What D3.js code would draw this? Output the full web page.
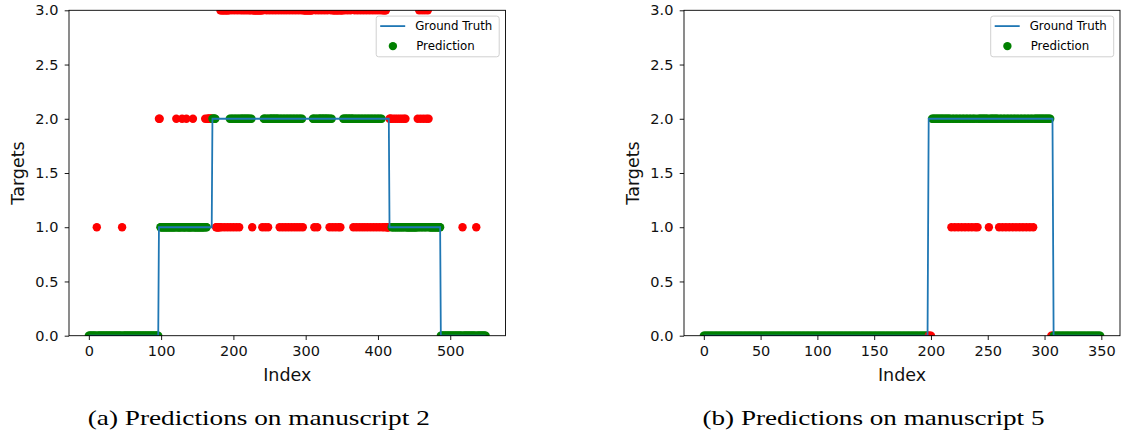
<!DOCTYPE html>
<html>
<head>
<meta charset="utf-8">
<script src="https://cdn.jsdelivr.net/npm/d3@7"></script>
<style>
body { margin: 0; background: #fff; }
svg { display: block; font-family: "DejaVu Sans", sans-serif; }
</style>
</head>
<body>
<svg id="chart" width="1125" height="439"></svg>
<script>
// ground truth as runs: [first index, last index, target]
var truthA = [[0, 96, 0], [97, 170, 1], [171, 415, 2], [416, 486, 1], [487, 549, 0]];
var truthB = [[0, 197, 0], [198, 307, 2], [308, 349, 0]];

// indices where the prediction is wrong (red), grouped by predicted value.
// every other index is predicted correctly (green)
var wrongA1 = [11, 46, 176, 177, 178, 179, 180, 181, 184, 188, 192, 196, 200, 204, 208, 226, 240, 244, 248,
    264, 268, 272, 276, 280, 284, 288, 292, 296, 312, 316, 333, 337, 341, 345, 348,
    366, 370, 374, 378, 382, 386, 390, 394, 398, 402, 406, 409, 412, 413, 414, 415, 517, 536];
var wrongA2 = [97, 98, 121, 129, 135, 144, 161, 164, 165, 166, 167, 168, 169, 170,
    416, 417, 418, 421, 424, 427, 430, 433, 436, 438, 455, 459, 463, 467, 470];
var wrongA3 = [182, 183, 185, 186, 187, 189, 190, 191, 193, 194, 198, 202, 206, 210, 213, 216, 219, 222, 224,
    227, 228, 229, 230, 231, 232, 233, 234, 235, 236, 237, 238, 239, 241,
    246, 250, 254, 258, 262, 266, 270, 274, 278, 282, 286, 290, 294,
    297, 298, 299, 300, 301, 302, 303, 304, 305, 306, 307, 308, 309,
    314, 318, 322, 326, 330, 335, 338, 339, 340, 342, 343, 344, 346, 347, 349, 350, 351,
    354, 358, 362, 368, 372, 376, 380, 384, 388, 392, 396, 400, 404, 407, 408, 410, 411,
    457, 461, 465, 469];
var wrongB0 = [198, 199, 200, 306, 307];
var wrongB1 = [218, 221, 224, 227, 230, 233, 236, 239, 241, 251,
    260, 263, 266, 269, 272, 275, 278, 281, 284, 287, 290];

var yTicks = [0, 0.5, 1, 1.5, 2, 2.5, 3];
var xTicksA = [0, 100, 200, 300, 400, 500];
var xTicksB = [0, 50, 100, 150, 200, 250, 300, 350];
var captions = ["(a) Predictions on manuscript 2", "(b) Predictions on manuscript 5"];

var svg = d3.select("#chart");
svg.append("rect").attr("width", 1125).attr("height", 439).attr("fill", "#fff");

function expand(runs)
{
    var out = [];
    runs.forEach(function(r) {
        for (var i = r[0]; i <= r[1]; i++) out.push(r[2]);
    });
    return out;
}

function draw_legend(g, right, top)
{
    var w = 123, h = 40.7;
    var bx = right - 6.3 - w, by = top + 5.8;
    g.append("rect")
        .attr("x", bx).attr("y", by).attr("width", w).attr("height", h)
        .attr("rx", 2.5)
        .attr("fill", "rgba(255,255,255,0.8)")
        .attr("stroke", "#d0d0d0").attr("stroke-width", 1);
    g.append("line")
        .attr("x1", bx + 4).attr("x2", bx + 29)
        .attr("y1", by + 10).attr("y2", by + 10)
        .attr("stroke", "#1f77b4").attr("stroke-width", 1.8);
    g.append("circle")
        .attr("cx", bx + 16.7).attr("cy", by + 30).attr("r", 4.2)
        .attr("fill", "#008000");
    var labels = ["Ground Truth", "Prediction"];
    g.selectAll("text.leg").data(labels).enter().append("text")
        .attr("class", "leg")
        .attr("x", function(d, i) { return bx + 39 + i; })
        .attr("y", function(d, i) { return by + 14.3 + i * 20; })
        .attr("font-size", 11.8)
        .attr("fill", "#000")
        .text(function(d) { return d; });
}

function draw_panel(id, box, truthRuns, wrong, xTicks, caption)
{
    var gt = expand(truthRuns);
    var n = gt.length - 1;
    var pred = gt.slice();
    wrong.forEach(function(w) {
        w[1].forEach(function(i) { pred[i] = w[0]; });
    });

    var x = d3.scaleLinear()
        .domain([-0.05 * n, n * 1.05])
        .range([box.left, box.right]);
    var y = d3.scaleLinear()
        .domain([0, 3])
        .range([box.bottom, box.top]);

    var g = svg.append("g");
    g.append("clipPath").attr("id", "clip" + id).append("rect")
        .attr("x", box.left).attr("y", box.top)
        .attr("width", box.right - box.left).attr("height", box.bottom - box.top);

    var plot = g.append("g").attr("clip-path", format("url(#clip{})", id));

    // one scatter, drawn in index order
    plot.selectAll("circle").data(pred).enter().append("circle")
        .attr("cx", function(d, i) { return x(i); })
        .attr("cy", function(d) { return y(d); })
        .attr("r", 4.2)
        .attr("fill", function(d, i) { return d === gt[i] ? "#008000" : "#ff0000"; });

    // ground truth line sits above the dots
    plot.append("path").datum(gt)
        .attr("d", d3.line().x(function(d, i) { return x(i); }).y(function(d) { return y(d); }))
        .attr("fill", "none")
        .attr("stroke", "#1f77b4")
        .attr("stroke-width", 1.8);

    var xAxis = g.append("g")
        .attr("transform", format("translate(0, {})", box.bottom))
        .call(d3.axisBottom(x).tickValues(xTicks).tickSize(4.3).tickPadding(5.5).tickFormat(d3.format("d")));
    var yAxis = g.append("g")
        .attr("transform", format("translate({}, 0)", box.left))
        .call(d3.axisLeft(y).tickValues(yTicks).tickSize(4.3).tickPadding(6.3).tickFormat(d3.format(".1f")));
    [xAxis, yAxis].forEach(function(a) {
        a.attr("font-size", 14.5).attr("font-family", "DejaVu Sans");
        a.select(".domain").remove();
        a.selectAll(".tick line").attr("stroke", "#000").attr("stroke-width", 0.9);
        a.selectAll(".tick text").attr("fill", "#111");
    });

    g.append("rect")
        .attr("x", box.left).attr("y", box.top)
        .attr("width", box.right - box.left).attr("height", box.bottom - box.top)
        .attr("fill", "none").attr("stroke", "#000").attr("stroke-width", 0.9);

    var cx = (box.left + box.right) / 2;
    g.append("text")
        .attr("x", cx).attr("y", 380.5)
        .attr("text-anchor", "middle")
        .attr("font-size", 17.5)
        .attr("fill", "#111")
        .text("Index");
    g.append("text")
        .attr("transform", format("translate({}, {}) rotate(-90)", box.left - 45, (box.top + box.bottom) / 2))
        .attr("text-anchor", "middle")
        .attr("font-size", 17.5)
        .attr("fill", "#111")
        .text("Targets");

    draw_legend(g, box.right, box.top);

    g.append("text")
        .attr("x", cx - 28.5).attr("y", 425)
        .attr("text-anchor", "middle")
        .attr("font-family", "Liberation Serif, serif")
        .attr("font-size", 21)
        .attr("textLength", 342)
        .attr("lengthAdjust", "spacingAndGlyphs")
        .attr("fill", "#000")
        .text(caption);
}

function format(s)
{
    var args = Array.prototype.slice.call(arguments, 1);
    var k = 0;
    return s.replace(/\{\}/g, function() { return args[k++]; });
}

draw_panel("a", {left: 69, right: 505.5, top: 10.3, bottom: 335.7}, truthA,
    [[1, wrongA1], [2, wrongA2], [3, wrongA3]], xTicksA, captions[0]);
draw_panel("b", {left: 684, right: 1120, top: 10.3, bottom: 335.7}, truthB,
    [[0, wrongB0], [1, wrongB1]], xTicksB, captions[1]);
</script>
</body>
</html>
